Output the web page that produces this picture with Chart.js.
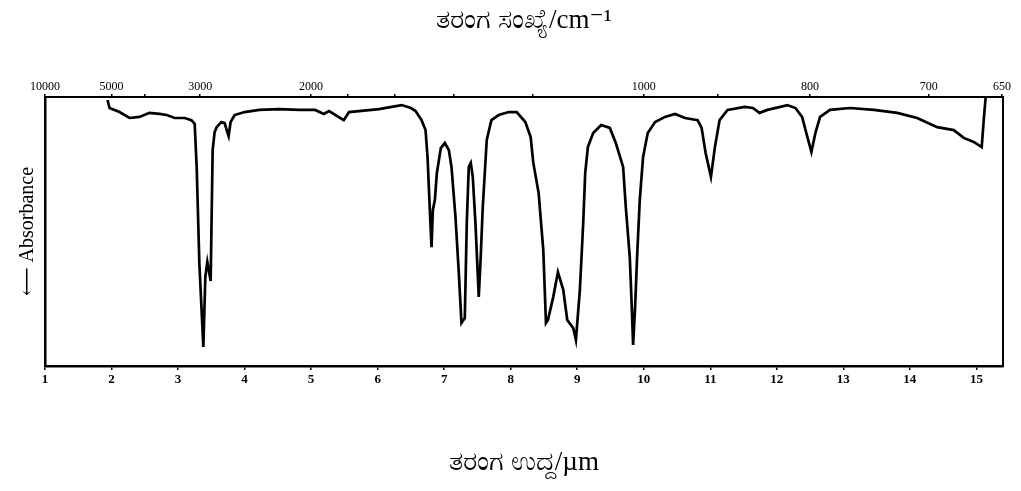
<!DOCTYPE html>
<html>
<head>
<meta charset="utf-8">
<script src="https://cdn.jsdelivr.net/npm/chart.js@4.4.0/dist/chart.umd.min.js"></script>
<style>
html, body { margin: 0; padding: 0; background: #fff; }
</style>
</head>
<body>
<canvas id="irChart" width="1021" height="491"></canvas>
<script>
// wavelength in micrometres (bottom axis)
const wavelength = [
    1.94, 1.97, 2.12, 2.27, 2.42, 2.57, 2.72, 2.83, 2.95, 3.10,
    3.20, 3.25, 3.28, 3.32, 3.38, 3.41, 3.44, 3.49, 3.52, 3.55,
    3.58, 3.65, 3.70, 3.74, 3.76, 3.79, 3.85, 4.00, 4.22, 4.52,
    4.82, 5.06, 5.19, 5.27, 5.49, 5.57, 6.02, 6.36, 6.50, 6.57,
    6.66, 6.72, 6.75, 6.78, 6.81, 6.83, 6.86, 6.89, 6.95, 7.01,
    7.07, 7.11, 7.17, 7.22, 7.26, 7.31, 7.34, 7.37, 7.40, 7.43,
    7.47, 7.52, 7.55, 7.58, 7.64, 7.71, 7.82, 7.97, 8.09, 8.22,
    8.30, 8.34, 8.42, 8.49, 8.53, 8.56, 8.64, 8.71, 8.79, 8.85,
    8.94, 8.98, 9.04, 9.09, 9.12, 9.16, 9.24, 9.36, 9.49, 9.58,
    9.69, 9.73, 9.79, 9.82, 9.84, 9.87, 9.90, 9.94, 9.99, 10.06,
    10.17, 10.32, 10.47, 10.62, 10.81, 10.87, 10.93, 11.01, 11.07, 11.14,
    11.26, 11.52, 11.64, 11.74, 11.86, 12.16, 12.28, 12.38, 12.46, 12.52,
    12.58, 12.65, 12.80, 13.10, 13.46, 13.81, 14.11, 14.41, 14.66, 14.81,
    14.96, 15.08, 15.11, 15.14
];

// absorbance, 0 = top of frame, 1 = bottom of frame
const absorbance = [
    0.011, 0.041, 0.056, 0.078, 0.074, 0.059, 0.063, 0.067, 0.078, 0.078,
    0.086, 0.100, 0.260, 0.617, 0.929, 0.669, 0.613, 0.684, 0.197, 0.130,
    0.112, 0.093, 0.097, 0.130, 0.145, 0.093, 0.067, 0.056, 0.048, 0.045,
    0.048, 0.048, 0.063, 0.052, 0.086, 0.056, 0.045, 0.030, 0.041, 0.052,
    0.086, 0.123, 0.223, 0.394, 0.558, 0.420, 0.383, 0.283, 0.190, 0.171,
    0.197, 0.260, 0.446, 0.654, 0.840, 0.822, 0.468, 0.260, 0.245, 0.297,
    0.468, 0.743, 0.590, 0.410, 0.160, 0.086, 0.067, 0.056, 0.056, 0.093,
    0.149, 0.245, 0.357, 0.569, 0.840, 0.829, 0.743, 0.651, 0.717, 0.829,
    0.859, 0.903, 0.717, 0.468, 0.283, 0.186, 0.134, 0.104, 0.115, 0.171,
    0.260, 0.409, 0.595, 0.781, 0.922, 0.781, 0.595, 0.383, 0.223, 0.134,
    0.093, 0.074, 0.063, 0.078, 0.086, 0.115, 0.208, 0.297, 0.186, 0.086,
    0.048, 0.037, 0.041, 0.059, 0.048, 0.030, 0.041, 0.074, 0.149, 0.204,
    0.134, 0.074, 0.048, 0.041, 0.048, 0.059, 0.078, 0.112, 0.123, 0.152,
    0.167, 0.186, 0.086, 0.000
];

const bottomTicks = [1, 2, 3, 4, 5, 6, 7, 8, 9, 10, 11, 12, 13, 14, 15];
const topWavenumbers = [10000, 5000, 4000, 3000, 2000, 1800, 1600, 1400, 1200, 1000, 900, 800, 700, 650];
const topLabeled = [10000, 5000, 3000, 2000, 1000, 800, 700, 650];

const serif = "'Liberation Serif', 'DejaVu Serif', serif";

const config = {
    type: 'scatter',
    data: {
        datasets: [{
            data: wavelength.map((w, i) => ({ x: w, y: absorbance[i] })),
            showLine: true,
            borderColor: '#000',
            borderWidth: 2.7,
            pointRadius: 0,
            tension: 0
        }]
    },
    options: {
        responsive: false,
        animation: false,
        events: [],
        layout: { padding: 0 },
        plugins: { legend: { display: false }, tooltip: { enabled: false } },
        scales: {
            x: {
                type: 'linear',
                position: 'bottom',
                min: 1,
                max: 15.4,
                afterBuildTicks: s => { s.ticks = bottomTicks.map(v => ({ value: v })); },
                afterFit: s => { s.height = 125; },
                ticks: {
                    autoSkip: false, maxRotation: 0, color: '#000', padding: 2,
                    font: { family: serif, size: 13, weight: 'bold' }
                },
                grid: { drawOnChartArea: false, tickLength: 4, color: '#000', lineWidth: 1.5 },
                border: { color: '#000', width: 2.5 },
                title: {
                    display: true,
                    text: 'ತರಂಗ ಉದ್ದ/µm',
                    color: '#000',
                    font: { family: serif, size: 27 },
                    padding: { top: 0, bottom: 12 }
                }
            },
            x2: {
                type: 'linear',
                position: 'top',
                min: 1,
                max: 15.4,
                afterBuildTicks: s => { s.ticks = topWavenumbers.map(n => ({ value: 10000 / n })); },
                afterFit: s => { s.height = 97; },
                ticks: {
                    autoSkip: false, maxRotation: 0, color: '#000', padding: 0,
                    font: { family: serif, size: 12 },
                    callback: (v, i) => topLabeled.includes(topWavenumbers[i]) ? String(topWavenumbers[i]) : ''
                },
                grid: { drawOnChartArea: false, tickLength: 3, color: '#000', lineWidth: 1.5 },
                border: { color: '#000', width: 2 },
                title: {
                    display: true,
                    text: 'ತರಂಗ ಸಂಖ್ಯೆ/cm⁻¹',
                    color: '#000',
                    font: { family: serif, size: 27 },
                    padding: { top: 5, bottom: 0 }
                }
            },
            y: {
                min: 0,
                max: 1,
                reverse: true,
                afterFit: s => { s.width = 45; },
                ticks: { display: false },
                grid: { display: false },
                border: { color: '#000', width: 2.5 },
                title: {
                    display: true,
                    text: '⟵ Absorbance',
                    color: '#000',
                    font: { family: serif, size: 20 },
                    padding: { top: 16, bottom: 0 }
                }
            },
            y2: {
                position: 'right',
                min: 0,
                max: 1,
                afterFit: s => { s.width = 18; },
                ticks: { display: false },
                grid: { display: false },
                border: { color: '#000', width: 2 }
            }
        }
    }
};

const ctx = document.getElementById('irChart').getContext('2d');
new Chart(ctx, config);
</script>
</body>
</html>
